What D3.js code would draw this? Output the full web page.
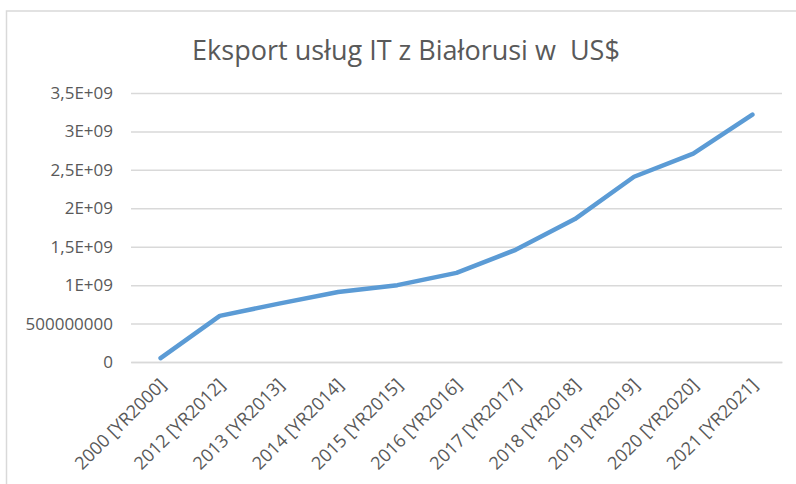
<!DOCTYPE html>
<html>
<head>
<meta charset="utf-8">
<script src="https://cdn.jsdelivr.net/npm/d3@7"></script>
<style>
  html, body { margin: 0; padding: 0; background: #fff; }
  svg { display: block; }
</style>
</head>
<body>
<div id="chart"></div>
<script>
const title = 'Eksport usług IT z Białorusi w  US$';

const categories = [
  '2000 [YR2000]', '2012 [YR2012]', '2013 [YR2013]', '2014 [YR2014]',
  '2015 [YR2015]', '2016 [YR2016]', '2017 [YR2017]', '2018 [YR2018]',
  '2019 [YR2019]', '2020 [YR2020]', '2021 [YR2021]'
];

const exportValues = [
  0.05e9, 0.60e9, 0.76e9, 0.91e9, 1.00e9, 1.16e9,
  1.46e9, 1.86e9, 2.41e9, 2.71e9, 3.22e9
];

const yTicks = [0, 0.5e9, 1e9, 1.5e9, 2e9, 2.5e9, 3e9, 3.5e9];
const yTickLabels = ['0', '500000000', '1E+09', '1,5E+09', '2E+09', '2,5E+09', '3E+09', '3,5E+09'];

const W = 796, H = 484;
const margin = { top: 93, right: 14, bottom: 122, left: 131 };
const iW = W - margin.left - margin.right;
const iH = H - margin.top - margin.bottom;
const font = '"Open Sans", "Noto Sans", sans-serif';
const textColor = '#595959';
const gridColor = '#d9d9d9';

const svg = d3.select('#chart')
  .append('svg')
  .attr('width', W)
  .attr('height', H);

// Chart area frame (only top and left edges fall inside the picture)
svg.append('rect')
  .attr('x', 6.5).attr('y', 11)
  .attr('width', W + 10).attr('height', H + 10)
  .attr('fill', 'none')
  .attr('stroke', gridColor)
  .attr('stroke-width', 1.5);

// Title, sized to the reference width
const titleText = svg.append('text')
  .attr('x', 406).attr('y', 60)
  .attr('text-anchor', 'middle')
  .attr('font-family', font)
  .attr('font-size', 30)
  .attr('fill', textColor)
  .style('white-space', 'pre')
  .text(title);
const tw = titleText.node().getComputedTextLength();
titleText.attr('font-size', 30 * 428 / tw);

const g = svg.append('g').attr('transform', `translate(${margin.left},${margin.top})`);

const xScale = d3.scalePoint()
  .domain(categories)
  .range([0, iW])
  .padding(0.5);

const yScale = d3.scaleLinear()
  .domain([0, 3.5e9])
  .range([iH, 0]);

// Grid lines
g.append('g')
  .call(d3.axisLeft(yScale).tickValues(yTicks).tickSize(-iW).tickFormat(''))
  .call(ax => ax.select('.domain').remove())
  .call(ax => ax.selectAll('line').attr('stroke', gridColor).attr('stroke-width', 1.5));

// Y labels
g.append('g')
  .call(d3.axisLeft(yScale).tickValues(yTicks).tickSize(0).tickPadding(18)
    .tickFormat((d, i) => yTickLabels[i]))
  .call(ax => ax.select('.domain').remove())
  .call(ax => ax.selectAll('text')
    .attr('font-family', font).attr('font-size', '17px').attr('fill', textColor));

// X axis
g.append('g').attr('transform', `translate(0,${iH})`)
  .call(d3.axisBottom(xScale).tickSize(0).tickPadding(0))
  .call(ax => ax.select('.domain').attr('stroke', gridColor).attr('stroke-width', 1.5))
  .call(ax => ax.selectAll('text')
    .attr('font-family', font).attr('font-size', '18px').attr('fill', textColor)
    .attr('text-anchor', 'end')
    .attr('dy', 0)
    .attr('transform', 'translate(6,24) rotate(-45)'));

// Line
const line = d3.line()
  .x((d, i) => xScale(categories[i]))
  .y(d => yScale(d));

g.append('path')
  .datum(exportValues)
  .attr('d', line)
  .attr('fill', 'none')
  .attr('stroke', '#5b9bd5')
  .attr('stroke-width', 4.5)
  .attr('stroke-linejoin', 'round')
  .attr('stroke-linecap', 'round');
</script>
</body>
</html>
